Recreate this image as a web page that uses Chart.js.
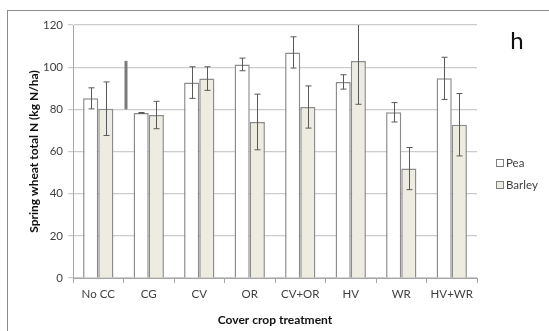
<!DOCTYPE html>
<html>
<head>
<meta charset="utf-8">
<script src="https://cdn.jsdelivr.net/npm/chart.js@4"></script>
<style>
  html,body{margin:0;padding:0;background:#fff}
  #wrap{position:relative;width:549px;height:331px;overflow:hidden}
  #frame{position:absolute;left:7px;top:10px;width:600px;height:400px;border-left:1px solid #8c8c8c;border-top:1px solid #8c8c8c}
  canvas{position:absolute;left:0;top:0}
</style>
</head>
<body>
<div id="wrap">
  <div id="frame"></div>
  <canvas id="c" width="549" height="331"></canvas>
</div>
<script>
const labels = ['No CC','CG','CV','OR','CV+OR','HV','WR','HV+WR'];
const pea = [85.2, 78.3, 92.7, 101.3, 107, 93, 78.6, 94.7];
const peaErr = [5, 0.2, 7.5, 3, 7.4, 3.4, 4.6, 10];
const barley = [80.3, 77.3, 94.6, 74, 81.1, 102.9, 51.9, 72.7];
const barleyErr = [12.7, 6.5, 5.6, 13.2, 10, 20.5, 10, 14.8];
const strayLine = [80, 103];   // odd vertical mark between No CC and CG
const yTicks = [0, 20, 40, 60, 80, 100, 120];
const panelLetter = 'h';

const FONT = 'Lato, "Liberation Sans", sans-serif';
const TXT = '#404040';

const errBars = {
  id:'errBars',
  afterDatasetsDraw(chart){
    const {ctx, chartArea:a, scales:{x, y}} = chart;
    ctx.save();
    ctx.beginPath(); ctx.rect(a.left, a.top, a.right-a.left, a.bottom-a.top); ctx.clip();
    ctx.strokeStyle = '#595959'; ctx.lineWidth = 1;
    chart.data.datasets.forEach((ds, di) => {
      const meta = chart.getDatasetMeta(di);
      meta.data.forEach((bar, i) => {
        const v = ds.data[i], e = ds.err[i];
        const px = Math.round(bar.x) + 0.5;
        const t = y.getPixelForValue(v + e), b = y.getPixelForValue(v - e);
        ctx.beginPath();
        ctx.moveTo(px, t); ctx.lineTo(px, b);
        ctx.moveTo(px-3, t); ctx.lineTo(px+3, t);
        ctx.moveTo(px-3, b); ctx.lineTo(px+3, b);
        ctx.stroke();
      });
    });
    // stray mark
    const sx = (x.getPixelForValue(0) + x.getPixelForValue(1)) / 2 + 2.5;
    ctx.strokeStyle = '#7a7a7a'; ctx.lineWidth = 3;
    ctx.beginPath();
    ctx.moveTo(sx, y.getPixelForValue(strayLine[0]));
    ctx.lineTo(sx, y.getPixelForValue(strayLine[1]));
    ctx.stroke();
    ctx.restore();

    // panel letter
    ctx.save();
    ctx.fillStyle = '#111'; ctx.font = '24px ' + FONT;
    ctx.textAlign = 'center'; ctx.textBaseline = 'middle';
    ctx.fillText(panelLetter, 517, 41);
    // legend
    ctx.font = '11.5px ' + FONT; ctx.textAlign = 'left';
    chart.data.datasets.forEach((ds, di) => {
      const cy = 163 + di * 22;
      ctx.fillStyle = ds.backgroundColor; ctx.strokeStyle = '#7f7f7f'; ctx.lineWidth = 1;
      ctx.fillRect(496.5, cy - 3.5, 7, 7);
      ctx.strokeRect(496.5, cy - 3.5, 7, 7);
      ctx.fillStyle = TXT;
      ctx.fillText(ds.label, 506, cy);
    });
    ctx.restore();
  }
};

new Chart(document.getElementById('c'), {
  type:'bar',
  data:{
    labels,
    datasets:[
      {label:'Pea', data:pea, err:peaErr, backgroundColor:'#ffffff', borderColor:'#8c8c8c', borderWidth:1.5},
      {label:'Barley', data:barley, err:barleyErr, backgroundColor:'#eeece1', borderColor:'#8c8c8c', borderWidth:1.5}
    ]
  },
  options:{
    responsive:false, animation:false,
    layout:{padding:{left:0, right:72, top:25, bottom:0}},
    datasets:{bar:{categoryPercentage:0.6, barPercentage:1}},
    plugins:{legend:{display:false}, tooltip:{enabled:false}},
    scales:{
      x:{
        grid:{display:true, drawOnChartArea:false, offset:true, tickLength:5, color:'#a6a6a6'},
        border:{color:'#a6a6a6'},
        ticks:{color:TXT, font:{family:FONT, size:11.5}, padding:4},
        title:{display:true, text:'Cover crop treatment', color:'#111', font:{family:FONT, size:12, weight:'bold'}, padding:{top:5}},
        afterFit(s){ s.height = 53; }
      },
      y:{
        min:0, max:120,
        afterBuildTicks(s){ s.ticks = yTicks.map(v => ({value:v})); },
        grid:{color:'#cccccc', tickLength:5, lineWidth:1.2},
        border:{color:'#a6a6a6'},
        ticks:{color:TXT, font:{family:FONT, size:11.5}, padding:5},
        title:{display:true, text:'Spring wheat total N (kg N/ha)', color:'#111', font:{family:FONT, size:12, weight:'bold'}, padding:{top:27, bottom:0}},
        afterFit(s){ s.width = 73; }
      }
    }
  },
  plugins:[errBars]
});
</script>
</body>
</html>
